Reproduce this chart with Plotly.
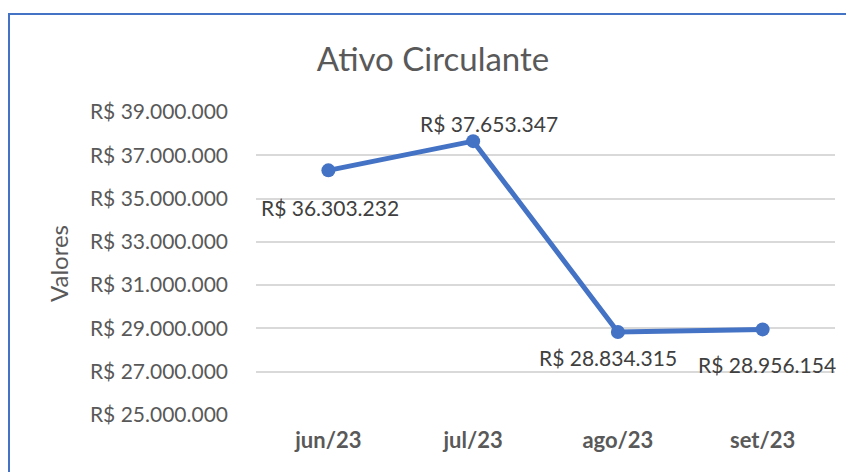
import plotly.graph_objects as go

categories = ["jun/23", "jul/23", "ago/23", "set/23"]
values = [36303232, 37653347, 28834315, 28956154]
tick_vals = [25000000, 27000000, 29000000, 31000000, 33000000, 35000000, 37000000, 39000000]

def brl(v):
    return "R$ " + f"{v:,.0f}".replace(",", ".")

tick_text = [brl(v) for v in tick_vals]
label_text = [brl(v) for v in values]

FONT = "Lato"
W, H = 846, 464          # page body has an 8px default margin
L, R, T, B = 248, 19, 104, 57
PW, PH = W - L - R, H - T - B

fig = go.Figure()
fig.add_trace(go.Scatter(
    x=categories, y=values, mode="lines+markers",
    line=dict(color="#4472C4", width=5),
    marker=dict(color="#4472C4", size=14),
    hoverinfo="skip", showlegend=False,
))

shifts = [(2, -37), (16, 18), (-10, -25), (4, -35)]
for c, v, t, (dx, dy) in zip(categories, values, label_text, shifts):
    fig.add_annotation(x=c, y=v, text=t, showarrow=False, xshift=dx, yshift=dy,
                       font=dict(family=FONT, size=21, color="#404040"))

fig.add_annotation(xref="paper", yref="paper", x=(50 - L) / PW, y=(H - B - 256) / PH,
                   xanchor="center", yanchor="middle",
                   text="Valores", textangle=-90, showarrow=False,
                   font=dict(family=FONT, size=24, color="#595959"))

fig.update_layout(
    width=W, height=H,
    margin=dict(l=L, r=R, t=T, b=B, autoexpand=False),
    paper_bgcolor="white", plot_bgcolor="white",
    title=dict(text="Ativo Circulante", x=425 / W, xanchor="center",
               y=1 - 51 / H, yanchor="middle",
               font=dict(family=FONT, size=33, color="#595959")),
    xaxis=dict(type="category", range=[-0.5, 3.5], showgrid=False, showline=False,
               ticks="outside", ticklen=6, tickcolor="rgba(0,0,0,0)", automargin=False,
               tickfont=dict(family=FONT, size=22, color="#595959", weight="bold")),
    yaxis=dict(range=[25000000, 39000000], tickvals=tick_vals, ticktext=tick_text,
               showgrid=True, gridcolor="#D9D9D9", gridwidth=1.5, zeroline=False,
               showline=False, ticks="", ticklen=0, ticklabelstandoff=27, automargin=False,
               tickfont=dict(family=FONT, size=21, color="#595959")),
    shapes=[dict(type="rect", xref="paper", yref="paper",
                 x0=(1 - L) / PW, x1=(W + 60 - L) / PW,
                 y0=(-60 - B) / PH, y1=(H - B - 6) / PH,
                 line=dict(color="#4472C4", width=2), fillcolor="rgba(0,0,0,0)", layer="below")],
)
fig.write_html("out.html")
